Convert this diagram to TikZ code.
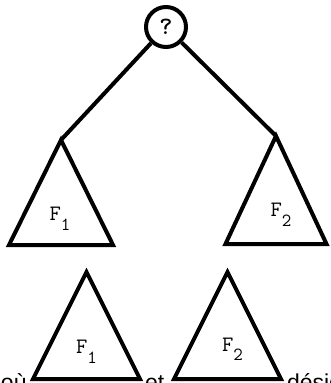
\documentclass[tikz,border=0pt]{standalone}
\usepackage{fontspec}
\setsansfont{Liberation Sans}
\tikzset{
  every picture/.style={line width=4pt},
  tri/.style={draw, line join=miter},
  lbl/.style={font=\ttfamily\fontsize{22}{22}\selectfont, inner sep=0pt},
  word/.style={font=\sffamily\fontsize{23}{23}\selectfont, anchor=base west, inner sep=0pt},
}
\newcommand{\fsub}[1]{F\raisebox{-9.5pt}{\fontsize{18.5}{18.5}\selectfont #1}}

\begin{document}
\begin{tikzpicture}[x=1pt, y=-1pt]
  \useasboundingbox (0,0) rectangle (330,383);
  \node[draw, circle, minimum size=40pt, inner sep=0pt, font=\ttfamily\bfseries\fontsize{25}{25}\selectfont] (root) at (166,27) {?};
  % triangles: name/apex x/apex y/half width/height
  \foreach \n/\x/\y/\w/\h in {tl/61/140/52/105, tr/276/136/50.5/108, bl/86.5/272/53.5/107, br/227.5/272/53.5/107}
    \draw[tri] (\x,\y) coordinate (\n) -- ++(\w,\h) -- ++({-2*\w},0) -- cycle;
  \draw (root) -- (tl);
  \draw (root) -- (tr);
  \node[lbl] (ftl) at (60,219) {\fsub{1}};
  \node[lbl] (ftr) at (281,215) {\fsub{2}};
  \node[lbl] (fbl) at (86.5,352) {\fsub{1}};
  \node[lbl] (fbr) at (232.5,349.5) {\fsub{2}};
  \node[word] (ou) at (-1,390) {où};
  \node[word] (et) at (143,390) {et};
  \node[word] (des) at (285,390) {désignent};
\end{tikzpicture}
\end{document}
